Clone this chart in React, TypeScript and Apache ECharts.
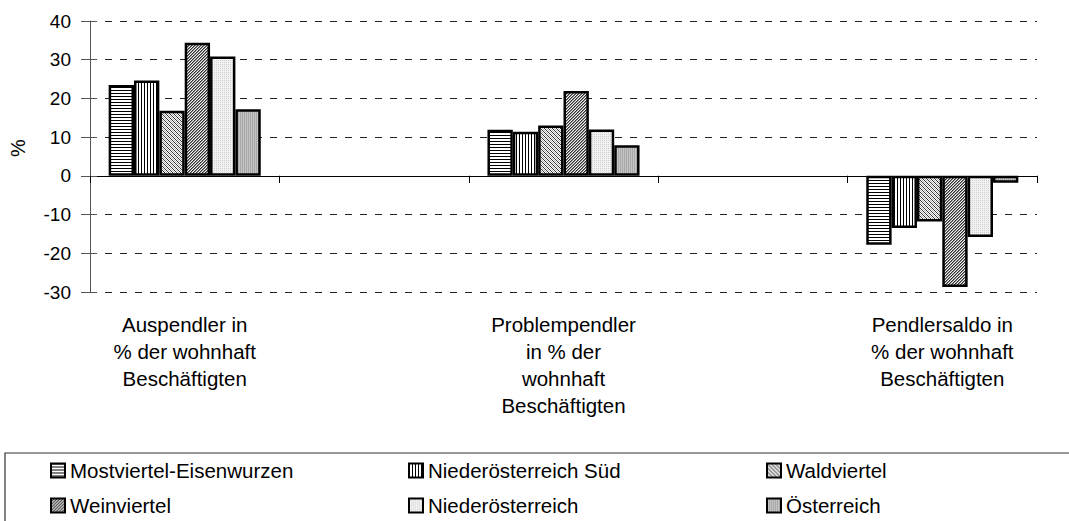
import React, { useEffect, useRef } from "react";
import * as echarts from "echarts";

const categories = [
  "Auspendler in\n% der wohnhaft\nBeschäftigten",
  "",
  "Problempendler\nin % der\nwohnhaft\nBeschäftigten",
  " ",
  "Pendlersaldo in\n% der wohnhaft\nBeschäftigten",
];

const seriesNames = [
  "Mostviertel-Eisenwurzen",
  "Niederösterreich Süd",
  "Waldviertel",
  "Weinviertel",
  "Niederösterreich",
  "Österreich",
];

const mostviertel = [23.5, null, 11.9, null, -17.8];
const noeSued = [24.6, null, 11.4, null, -13.5];
const waldviertel = [16.8, null, 13.0, null, -11.8];
const weinviertel = [34.4, null, 21.9, null, -28.7];
const niederoesterreich = [30.8, null, 12.0, null, -15.8];
const oesterreich = [17.2, null, 7.9, null, -1.8];

const seriesValues = [mostviertel, noeSued, waldviertel, weinviertel, niederoesterreich, oesterreich];

const yTicks = { min: -30, max: 40, interval: 10 };

const FONT = "'Liberation Sans', Arial, sans-serif";

function makePattern(size: number, bg: string, draw: (ctx: CanvasRenderingContext2D) => void) {
  const c = document.createElement("canvas");
  c.width = size;
  c.height = size;
  const ctx = c.getContext("2d") as CanvasRenderingContext2D;
  ctx.fillStyle = bg;
  ctx.fillRect(0, 0, size, size);
  draw(ctx);
  return { image: c, repeat: "repeat" };
}

function buildPatterns() {
  const horiz = makePattern(3, "#fff", (ctx) => {
    ctx.fillStyle = "#000";
    ctx.fillRect(0, 0, 3, 1);
  });
  const vert = makePattern(3, "#fff", (ctx) => {
    ctx.fillStyle = "#000";
    ctx.fillRect(0, 0, 1, 3);
  });
  const wald = makePattern(4, "#fff", (ctx) => {
    ctx.fillStyle = "#333";
    for (let i = 0; i < 4; i++) ctx.fillRect(i, i, 1, 1);
    ctx.fillStyle = "#b0b0b0";
    for (let i = 0; i < 4; i++) ctx.fillRect((i + 2) % 4, i, 1, 1);
  });
  const wein = makePattern(3, "#f4f4f4", (ctx) => {
    ctx.fillStyle = "#333";
    for (let i = 0; i < 3; i++) ctx.fillRect((2 - i + 3) % 3, i, 1, 1);
    ctx.fillStyle = "#888";
    for (let i = 0; i < 3; i++) ctx.fillRect((3 - i + 3) % 3, i, 1, 1);
  });
  const noe = makePattern(2, "#f2f2f2", (ctx) => {
    ctx.fillStyle = "#d0d0d0";
    ctx.fillRect(0, 0, 1, 1);
  });
  const oe = makePattern(2, "#c4c4c4", (ctx) => {
    ctx.fillStyle = "#a8a8a8";
    ctx.fillRect(0, 0, 1, 2);
  });
  return [horiz, vert, wald, wein, noe, oe];
}

export default function App() {
  const ref = useRef<HTMLDivElement>(null);

  useEffect(() => {
    document.body.style.margin = "0";
    if (!ref.current) return;
    const chart = echarts.init(ref.current, null, { renderer: "svg" });
    const patterns = buildPatterns();

    const legendCols = [
      { left: 50, data: [seriesNames[0], seriesNames[3]] },
      { left: 408, data: [seriesNames[1], seriesNames[4]] },
      { left: 766, data: [seriesNames[2], seriesNames[5]] },
    ];

    const option: any = {
      animation: false,
      backgroundColor: "#fff",
      textStyle: { fontFamily: FONT, color: "#000" },
      grid: { left: 90, right: 32, top: 21, bottom: 229, containLabel: false },
      xAxis: [
        {
          type: "category",
          data: categories,
          axisLine: { onZero: true, lineStyle: { color: "#000", width: 1 } },
          axisTick: { show: true, length: 7, lineStyle: { color: "#000" } },
          axisLabel: { show: false },
          splitLine: { show: false },
        },
        {
          type: "category",
          data: categories,
          position: "bottom",
          axisLine: { show: false, onZero: false },
          axisTick: { show: false },
          axisLabel: {
            show: true,
            interval: 0,
            fontSize: 20.5,
            lineHeight: 27,
            margin: 19,
            color: "#000",
            fontFamily: FONT,
            align: "center",
          },
          splitLine: { show: false },
        },
        {
          type: "category",
          data: categories,
          axisLine: { show: false, onZero: true },
          axisTick: { show: true, inside: true, length: 7, lineStyle: { color: "#000" } },
          axisLabel: { show: false },
          splitLine: { show: false },
        },
      ],
      yAxis: [
        {
          type: "value",
          min: yTicks.min,
          max: yTicks.max,
          interval: yTicks.interval,
          axisLine: { show: true, lineStyle: { color: "#555", width: 1 } },
          axisTick: { show: true, length: 9, lineStyle: { color: "#555" } },
          axisLabel: { fontSize: 19, margin: 19, color: "#000", fontFamily: FONT },
          splitLine: {
            show: true,
            lineStyle: { color: "#222", width: 1, type: [7, 8] },
          },
        },
        {
          type: "value",
          min: yTicks.min,
          max: yTicks.max,
          interval: yTicks.interval,
          position: "left",
          axisLine: { show: false },
          axisTick: { show: true, inside: true, length: 7, lineStyle: { color: "#555" } },
          axisLabel: { show: false },
          splitLine: { show: false },
        },
      ],
      legend: legendCols.map((c) => ({
        show: true,
        orient: "vertical",
        left: c.left,
        top: 460,
        padding: 0,
        itemWidth: 14,
        itemHeight: 14,
        itemGap: 14,
        icon: "rect",
        data: c.data,
        selectedMode: false,
        textStyle: { fontSize: 20.5, lineHeight: 20, color: "#000", fontFamily: FONT },
        itemStyle: { borderColor: "#000", borderWidth: 2 },
      })),
      graphic: [
        {
          type: "rect",
          shape: { x: 5, y: 453, width: 1200, height: 200 },
          style: { fill: "none", stroke: "#333", lineWidth: 1.2 },
          silent: true,
        },
        {
          type: "text",
          x: 18,
          y: 148,
          rotation: Math.PI / 2,
          style: {
            text: "%",
            fontSize: 20,
            fontFamily: FONT,
            fill: "#000",
            align: "center",
            verticalAlign: "middle",
          },
        },
      ],
      series: seriesNames.map((name, i) => ({
        name,
        type: "bar",
        xAxisIndex: 0,
        yAxisIndex: 0,
        data: seriesValues[i],
        barGap: "0%",
        barCategoryGap: "19.7%",
        itemStyle: {
          color: patterns[i],
          borderColor: "#000",
          borderWidth: 2.5,
        },
        emphasis: { disabled: true },
      })),
    };

    chart.setOption(option);
    return () => chart.dispose();
  }, []);

  return <div ref={ref} style={{ width: 1069, height: 521 }} />;
}
